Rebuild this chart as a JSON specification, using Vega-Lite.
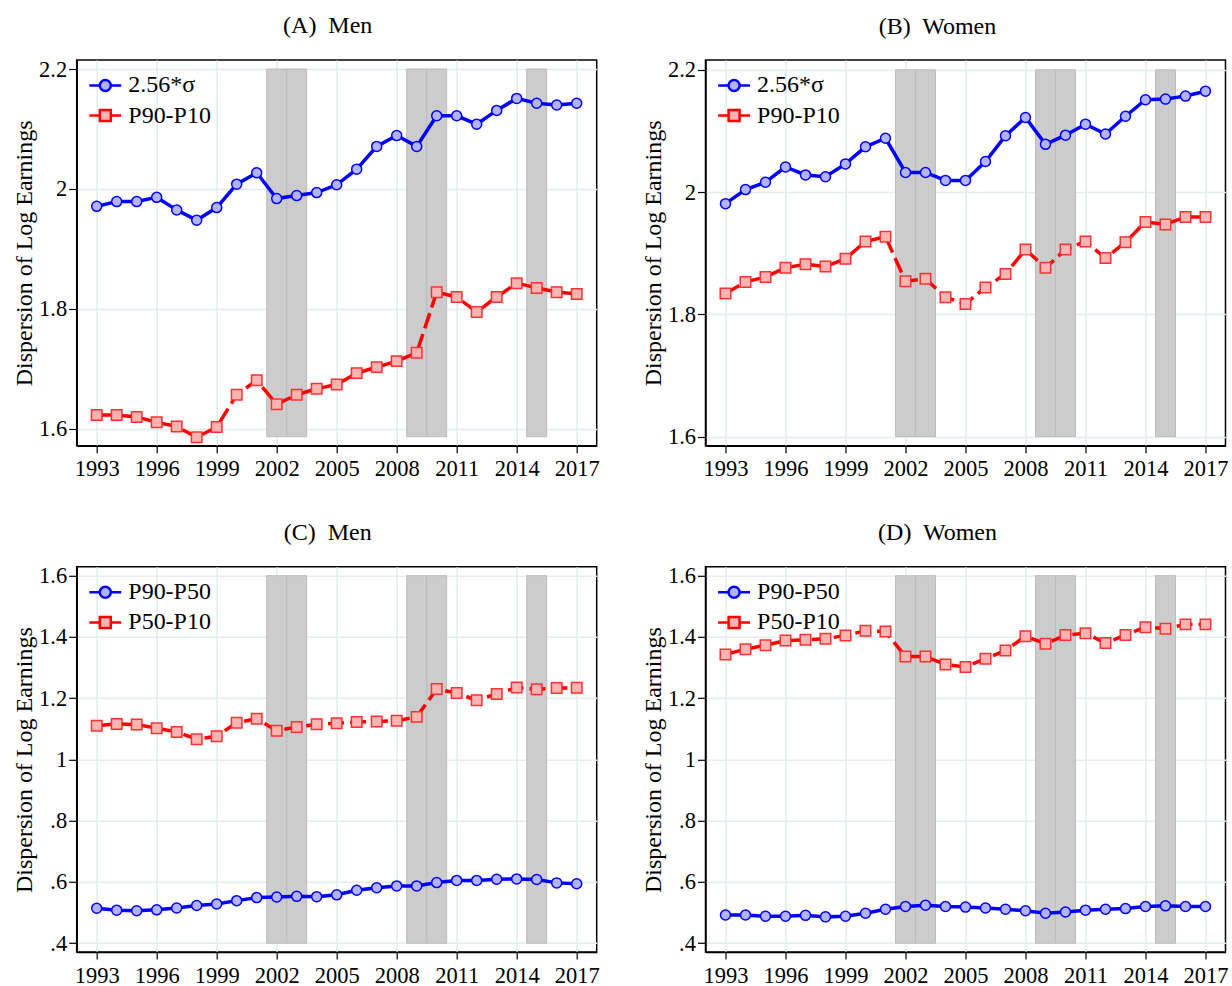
{
  "$schema": "https://vega.github.io/schema/vega-lite/v6.json",
  "background": "white",
  "padding": {"left": 11.7, "top": 13, "right": 0, "bottom": 0},
  "config": {
    "font": "Liberation Serif",
    "view": {"stroke": "black", "strokeWidth": 1.5},
    "axis": {
      "labelFont": "Liberation Serif", "labelFontSize": 22.5, "labelColor": "black",
      "titleFont": "Liberation Serif", "titleFontSize": 24, "titleFontWeight": "normal", "titleColor": "black",
      "domainColor": "black", "domainWidth": 1.5, "tickColor": "black", "tickWidth": 1.2,
      "gridColor": "#e3edef", "gridWidth": 1.5, "gridOpacity": 1
    },
    "axisX": {"tickSize": 7, "labelPadding": 5, "labelFlush": false},
    "axisY": {"tickSize": 8, "labelPadding": 2, "titleX": -52, "titleY": 192.85, "titleAngle": -90, "titleBaseline": "middle", "titleAlign": "center"},
    "title": {"font": "Liberation Serif", "fontSize": 24, "fontWeight": "normal", "color": "black", "frame": "group", "anchor": "middle", "baseline": "alphabetic", "offset": 20},
    "legend": {
      "orient": "none", "legendX": 16.6, "legendY": 13.4, "padding": 0, "title": null,
      "labelFont": "Liberation Serif", "labelFontSize": 24, "labelColor": "black",
      "symbolSize": 121, "symbolStrokeWidth": 2.5, "symbolOpacity": 1, "labelOffset": 11, "rowPadding": 6.2
    }
  },
  "datasets": {
    "bands": [
      {"p": "A", "x1": 2001.5, "x2": 2002.5, "lo": 1.587, "hi": 2.2},
      {"p": "A", "x1": 2002.5, "x2": 2003.5, "lo": 1.587, "hi": 2.2},
      {"p": "A", "x1": 2008.5, "x2": 2009.5, "lo": 1.587, "hi": 2.2},
      {"p": "A", "x1": 2009.5, "x2": 2010.5, "lo": 1.587, "hi": 2.2},
      {"p": "A", "x1": 2014.5, "x2": 2015.5, "lo": 1.587, "hi": 2.2},
      {"p": "B", "x1": 2001.5, "x2": 2002.5, "lo": 1.6, "hi": 2.2},
      {"p": "B", "x1": 2002.5, "x2": 2003.5, "lo": 1.6, "hi": 2.2},
      {"p": "B", "x1": 2008.5, "x2": 2009.5, "lo": 1.6, "hi": 2.2},
      {"p": "B", "x1": 2009.5, "x2": 2010.5, "lo": 1.6, "hi": 2.2},
      {"p": "B", "x1": 2014.5, "x2": 2015.5, "lo": 1.6, "hi": 2.2},
      {"p": "C", "x1": 2001.5, "x2": 2002.5, "lo": 0.4, "hi": 1.6},
      {"p": "C", "x1": 2002.5, "x2": 2003.5, "lo": 0.4, "hi": 1.6},
      {"p": "C", "x1": 2008.5, "x2": 2009.5, "lo": 0.4, "hi": 1.6},
      {"p": "C", "x1": 2009.5, "x2": 2010.5, "lo": 0.4, "hi": 1.6},
      {"p": "C", "x1": 2014.5, "x2": 2015.5, "lo": 0.4, "hi": 1.6},
      {"p": "D", "x1": 2001.5, "x2": 2002.5, "lo": 0.4, "hi": 1.6},
      {"p": "D", "x1": 2002.5, "x2": 2003.5, "lo": 0.4, "hi": 1.6},
      {"p": "D", "x1": 2008.5, "x2": 2009.5, "lo": 0.4, "hi": 1.6},
      {"p": "D", "x1": 2009.5, "x2": 2010.5, "lo": 0.4, "hi": 1.6},
      {"p": "D", "x1": 2014.5, "x2": 2015.5, "lo": 0.4, "hi": 1.6}
    ],
    "lines": [
      {"p":"A","s":"2.56*σ","yr":1993,"v":1.971},{"p":"A","s":"2.56*σ","yr":1994,"v":1.979},{"p":"A","s":"2.56*σ","yr":1995,"v":1.979},{"p":"A","s":"2.56*σ","yr":1996,"v":1.986},{"p":"A","s":"2.56*σ","yr":1997,"v":1.965},{"p":"A","s":"2.56*σ","yr":1998,"v":1.948},{"p":"A","s":"2.56*σ","yr":1999,"v":1.969},{"p":"A","s":"2.56*σ","yr":2000,"v":2.008},{"p":"A","s":"2.56*σ","yr":2001,"v":2.027},{"p":"A","s":"2.56*σ","yr":2002,"v":1.984},{"p":"A","s":"2.56*σ","yr":2003,"v":1.989},{"p":"A","s":"2.56*σ","yr":2004,"v":1.994},{"p":"A","s":"2.56*σ","yr":2005,"v":2.007},{"p":"A","s":"2.56*σ","yr":2006,"v":2.033},{"p":"A","s":"2.56*σ","yr":2007,"v":2.071},{"p":"A","s":"2.56*σ","yr":2008,"v":2.089},{"p":"A","s":"2.56*σ","yr":2009,"v":2.071},{"p":"A","s":"2.56*σ","yr":2010,"v":2.122},{"p":"A","s":"2.56*σ","yr":2011,"v":2.122},{"p":"A","s":"2.56*σ","yr":2012,"v":2.108},{"p":"A","s":"2.56*σ","yr":2013,"v":2.131},{"p":"A","s":"2.56*σ","yr":2014,"v":2.151},{"p":"A","s":"2.56*σ","yr":2015,"v":2.143},{"p":"A","s":"2.56*σ","yr":2016,"v":2.140},{"p":"A","s":"2.56*σ","yr":2017,"v":2.143},
      {"p":"A","s":"P90-P10","yr":1993,"v":1.623},{"p":"A","s":"P90-P10","yr":1994,"v":1.623},{"p":"A","s":"P90-P10","yr":1995,"v":1.620},{"p":"A","s":"P90-P10","yr":1996,"v":1.611},{"p":"A","s":"P90-P10","yr":1997,"v":1.604},{"p":"A","s":"P90-P10","yr":1998,"v":1.586},{"p":"A","s":"P90-P10","yr":1999,"v":1.603},{"p":"A","s":"P90-P10","yr":2000,"v":1.657},{"p":"A","s":"P90-P10","yr":2001,"v":1.681},{"p":"A","s":"P90-P10","yr":2002,"v":1.641},{"p":"A","s":"P90-P10","yr":2003,"v":1.657},{"p":"A","s":"P90-P10","yr":2004,"v":1.667},{"p":"A","s":"P90-P10","yr":2005,"v":1.674},{"p":"A","s":"P90-P10","yr":2006,"v":1.693},{"p":"A","s":"P90-P10","yr":2007,"v":1.703},{"p":"A","s":"P90-P10","yr":2008,"v":1.713},{"p":"A","s":"P90-P10","yr":2009,"v":1.727},{"p":"A","s":"P90-P10","yr":2010,"v":1.828},{"p":"A","s":"P90-P10","yr":2011,"v":1.820},{"p":"A","s":"P90-P10","yr":2012,"v":1.795},{"p":"A","s":"P90-P10","yr":2013,"v":1.820},{"p":"A","s":"P90-P10","yr":2014,"v":1.843},{"p":"A","s":"P90-P10","yr":2015,"v":1.835},{"p":"A","s":"P90-P10","yr":2016,"v":1.828},{"p":"A","s":"P90-P10","yr":2017,"v":1.825},
      {"p":"B","s":"2.56*σ","yr":1993,"v":1.981},{"p":"B","s":"2.56*σ","yr":1994,"v":2.004},{"p":"B","s":"2.56*σ","yr":1995,"v":2.016},{"p":"B","s":"2.56*σ","yr":1996,"v":2.041},{"p":"B","s":"2.56*σ","yr":1997,"v":2.028},{"p":"B","s":"2.56*σ","yr":1998,"v":2.025},{"p":"B","s":"2.56*σ","yr":1999,"v":2.046},{"p":"B","s":"2.56*σ","yr":2000,"v":2.074},{"p":"B","s":"2.56*σ","yr":2001,"v":2.088},{"p":"B","s":"2.56*σ","yr":2002,"v":2.032},{"p":"B","s":"2.56*σ","yr":2003,"v":2.032},{"p":"B","s":"2.56*σ","yr":2004,"v":2.019},{"p":"B","s":"2.56*σ","yr":2005,"v":2.019},{"p":"B","s":"2.56*σ","yr":2006,"v":2.050},{"p":"B","s":"2.56*σ","yr":2007,"v":2.092},{"p":"B","s":"2.56*σ","yr":2008,"v":2.122},{"p":"B","s":"2.56*σ","yr":2009,"v":2.078},{"p":"B","s":"2.56*σ","yr":2010,"v":2.093},{"p":"B","s":"2.56*σ","yr":2011,"v":2.111},{"p":"B","s":"2.56*σ","yr":2012,"v":2.095},{"p":"B","s":"2.56*σ","yr":2013,"v":2.124},{"p":"B","s":"2.56*σ","yr":2014,"v":2.151},{"p":"B","s":"2.56*σ","yr":2015,"v":2.152},{"p":"B","s":"2.56*σ","yr":2016,"v":2.157},{"p":"B","s":"2.56*σ","yr":2017,"v":2.165},
      {"p":"B","s":"P90-P10","yr":1993,"v":1.834},{"p":"B","s":"P90-P10","yr":1994,"v":1.853},{"p":"B","s":"P90-P10","yr":1995,"v":1.861},{"p":"B","s":"P90-P10","yr":1996,"v":1.876},{"p":"B","s":"P90-P10","yr":1997,"v":1.882},{"p":"B","s":"P90-P10","yr":1998,"v":1.878},{"p":"B","s":"P90-P10","yr":1999,"v":1.891},{"p":"B","s":"P90-P10","yr":2000,"v":1.919},{"p":"B","s":"P90-P10","yr":2001,"v":1.927},{"p":"B","s":"P90-P10","yr":2002,"v":1.854},{"p":"B","s":"P90-P10","yr":2003,"v":1.858},{"p":"B","s":"P90-P10","yr":2004,"v":1.828},{"p":"B","s":"P90-P10","yr":2005,"v":1.817},{"p":"B","s":"P90-P10","yr":2006,"v":1.844},{"p":"B","s":"P90-P10","yr":2007,"v":1.866},{"p":"B","s":"P90-P10","yr":2008,"v":1.906},{"p":"B","s":"P90-P10","yr":2009,"v":1.876},{"p":"B","s":"P90-P10","yr":2010,"v":1.906},{"p":"B","s":"P90-P10","yr":2011,"v":1.919},{"p":"B","s":"P90-P10","yr":2012,"v":1.892},{"p":"B","s":"P90-P10","yr":2013,"v":1.918},{"p":"B","s":"P90-P10","yr":2014,"v":1.951},{"p":"B","s":"P90-P10","yr":2015,"v":1.947},{"p":"B","s":"P90-P10","yr":2016,"v":1.959},{"p":"B","s":"P90-P10","yr":2017,"v":1.959},
      {"p":"C","s":"P90-P50","yr":1993,"v":0.514},{"p":"C","s":"P90-P50","yr":1994,"v":0.508},{"p":"C","s":"P90-P50","yr":1995,"v":0.506},{"p":"C","s":"P90-P50","yr":1996,"v":0.509},{"p":"C","s":"P90-P50","yr":1997,"v":0.515},{"p":"C","s":"P90-P50","yr":1998,"v":0.523},{"p":"C","s":"P90-P50","yr":1999,"v":0.528},{"p":"C","s":"P90-P50","yr":2000,"v":0.539},{"p":"C","s":"P90-P50","yr":2001,"v":0.549},{"p":"C","s":"P90-P50","yr":2002,"v":0.551},{"p":"C","s":"P90-P50","yr":2003,"v":0.553},{"p":"C","s":"P90-P50","yr":2004,"v":0.552},{"p":"C","s":"P90-P50","yr":2005,"v":0.558},{"p":"C","s":"P90-P50","yr":2006,"v":0.573},{"p":"C","s":"P90-P50","yr":2007,"v":0.581},{"p":"C","s":"P90-P50","yr":2008,"v":0.587},{"p":"C","s":"P90-P50","yr":2009,"v":0.587},{"p":"C","s":"P90-P50","yr":2010,"v":0.598},{"p":"C","s":"P90-P50","yr":2011,"v":0.605},{"p":"C","s":"P90-P50","yr":2012,"v":0.605},{"p":"C","s":"P90-P50","yr":2013,"v":0.609},{"p":"C","s":"P90-P50","yr":2014,"v":0.610},{"p":"C","s":"P90-P50","yr":2015,"v":0.608},{"p":"C","s":"P90-P50","yr":2016,"v":0.597},{"p":"C","s":"P90-P50","yr":2017,"v":0.594},
      {"p":"C","s":"P50-P10","yr":1993,"v":1.110},{"p":"C","s":"P50-P10","yr":1994,"v":1.116},{"p":"C","s":"P50-P10","yr":1995,"v":1.114},{"p":"C","s":"P50-P10","yr":1996,"v":1.102},{"p":"C","s":"P50-P10","yr":1997,"v":1.090},{"p":"C","s":"P50-P10","yr":1998,"v":1.066},{"p":"C","s":"P50-P10","yr":1999,"v":1.076},{"p":"C","s":"P50-P10","yr":2000,"v":1.120},{"p":"C","s":"P50-P10","yr":2001,"v":1.133},{"p":"C","s":"P50-P10","yr":2002,"v":1.094},{"p":"C","s":"P50-P10","yr":2003,"v":1.106},{"p":"C","s":"P50-P10","yr":2004,"v":1.115},{"p":"C","s":"P50-P10","yr":2005,"v":1.118},{"p":"C","s":"P50-P10","yr":2006,"v":1.122},{"p":"C","s":"P50-P10","yr":2007,"v":1.124},{"p":"C","s":"P50-P10","yr":2008,"v":1.126},{"p":"C","s":"P50-P10","yr":2009,"v":1.139},{"p":"C","s":"P50-P10","yr":2010,"v":1.230},{"p":"C","s":"P50-P10","yr":2011,"v":1.217},{"p":"C","s":"P50-P10","yr":2012,"v":1.193},{"p":"C","s":"P50-P10","yr":2013,"v":1.214},{"p":"C","s":"P50-P10","yr":2014,"v":1.235},{"p":"C","s":"P50-P10","yr":2015,"v":1.229},{"p":"C","s":"P50-P10","yr":2016,"v":1.233},{"p":"C","s":"P50-P10","yr":2017,"v":1.234},
      {"p":"D","s":"P90-P50","yr":1993,"v":0.492},{"p":"D","s":"P90-P50","yr":1994,"v":0.492},{"p":"D","s":"P90-P50","yr":1995,"v":0.488},{"p":"D","s":"P90-P50","yr":1996,"v":0.488},{"p":"D","s":"P90-P50","yr":1997,"v":0.491},{"p":"D","s":"P90-P50","yr":1998,"v":0.486},{"p":"D","s":"P90-P50","yr":1999,"v":0.488},{"p":"D","s":"P90-P50","yr":2000,"v":0.498},{"p":"D","s":"P90-P50","yr":2001,"v":0.511},{"p":"D","s":"P90-P50","yr":2002,"v":0.520},{"p":"D","s":"P90-P50","yr":2003,"v":0.524},{"p":"D","s":"P90-P50","yr":2004,"v":0.520},{"p":"D","s":"P90-P50","yr":2005,"v":0.518},{"p":"D","s":"P90-P50","yr":2006,"v":0.515},{"p":"D","s":"P90-P50","yr":2007,"v":0.511},{"p":"D","s":"P90-P50","yr":2008,"v":0.506},{"p":"D","s":"P90-P50","yr":2009,"v":0.498},{"p":"D","s":"P90-P50","yr":2010,"v":0.502},{"p":"D","s":"P90-P50","yr":2011,"v":0.508},{"p":"D","s":"P90-P50","yr":2012,"v":0.511},{"p":"D","s":"P90-P50","yr":2013,"v":0.513},{"p":"D","s":"P90-P50","yr":2014,"v":0.520},{"p":"D","s":"P90-P50","yr":2015,"v":0.522},{"p":"D","s":"P90-P50","yr":2016,"v":0.520},{"p":"D","s":"P90-P50","yr":2017,"v":0.520},
      {"p":"D","s":"P50-P10","yr":1993,"v":1.343},{"p":"D","s":"P50-P10","yr":1994,"v":1.360},{"p":"D","s":"P50-P10","yr":1995,"v":1.373},{"p":"D","s":"P50-P10","yr":1996,"v":1.388},{"p":"D","s":"P50-P10","yr":1997,"v":1.391},{"p":"D","s":"P50-P10","yr":1998,"v":1.394},{"p":"D","s":"P50-P10","yr":1999,"v":1.405},{"p":"D","s":"P50-P10","yr":2000,"v":1.420},{"p":"D","s":"P50-P10","yr":2001,"v":1.418},{"p":"D","s":"P50-P10","yr":2002,"v":1.336},{"p":"D","s":"P50-P10","yr":2003,"v":1.336},{"p":"D","s":"P50-P10","yr":2004,"v":1.310},{"p":"D","s":"P50-P10","yr":2005,"v":1.302},{"p":"D","s":"P50-P10","yr":2006,"v":1.329},{"p":"D","s":"P50-P10","yr":2007,"v":1.356},{"p":"D","s":"P50-P10","yr":2008,"v":1.402},{"p":"D","s":"P50-P10","yr":2009,"v":1.378},{"p":"D","s":"P50-P10","yr":2010,"v":1.406},{"p":"D","s":"P50-P10","yr":2011,"v":1.412},{"p":"D","s":"P50-P10","yr":2012,"v":1.380},{"p":"D","s":"P50-P10","yr":2013,"v":1.406},{"p":"D","s":"P50-P10","yr":2014,"v":1.432},{"p":"D","s":"P50-P10","yr":2015,"v":1.427},{"p":"D","s":"P50-P10","yr":2016,"v":1.441},{"p":"D","s":"P50-P10","yr":2017,"v":1.441}
    ]
  },
  "columns": 2,
  "spacing": {"row": 120.8, "column": 108.8},
  "bounds": "flush",
  "resolve": {"scale": {"x": "independent", "y": "independent", "stroke": "independent", "fill": "independent", "shape": "independent"}},
  "concat": [
    {
      "width": 520, "height": 385.7,
      "title": {"text": "(A)\u00a0 Men", "dx": -9},
      "layer": [
        {"data": {"name": "bands"}, "transform": [{"filter": "datum.p == 'A'"}],
         "mark": {"type": "rect", "fill": "#cccccc", "stroke": "#bdbdbd", "strokeWidth": 1},
         "encoding": {
           "x": {"field": "x1", "type": "quantitative", "title": null, "scale": {"domain": [1992, 2018], "nice": false}, "axis": {"values": [1993,1996,1999,2002,2005,2008,2011,2014,2017], "format": "d"}},
           "x2": {"field": "x2"},
           "y": {"field": "lo", "type": "quantitative", "title": "Dispersion of Log Earnings", "scale": {"domain": [1.572, 2.215], "nice": false}, "axis": {"values": [1.6,1.8,2,2.2], "labelExpr": "format(datum.value, '~g')"}},
           "y2": {"field": "hi"}
         }},
        {"data": {"name": "lines"}, "transform": [{"filter": "datum.p == 'A' && datum.s == '2.56*σ'"}],
         "mark": {"type": "line", "stroke": "#0000ff", "strokeWidth": 3.5},
         "encoding": {"x": {"field": "yr", "type": "quantitative", "title": null}, "y": {"field": "v", "type": "quantitative", "title": "Dispersion of Log Earnings"}}},
        {"data": {"name": "lines"}, "transform": [{"filter": "datum.p == 'A' && datum.s == 'P90-P10'"}],
         "mark": {"type": "line", "stroke": "#ff0000", "strokeWidth": 3.5, "strokeDash": [16, 6]},
         "encoding": {"x": {"field": "yr", "type": "quantitative", "title": null}, "y": {"field": "v", "type": "quantitative", "title": "Dispersion of Log Earnings"}}},
        {"data": {"name": "lines"}, "transform": [{"filter": "datum.p == 'A' && datum.s == '2.56*σ'"}],
         "mark": {"type": "point", "shape": "circle", "filled": true, "fill": "#b3b3ff", "stroke": "#0000ff", "strokeWidth": 1.5, "opacity": 1, "size": 100},
         "encoding": {"x": {"field": "yr", "type": "quantitative", "title": null}, "y": {"field": "v", "type": "quantitative", "title": "Dispersion of Log Earnings"}}},
        {"data": {"name": "lines"}, "transform": [{"filter": "datum.p == 'A' && datum.s == 'P90-P10'"}],
         "mark": {"type": "point", "shape": "square", "filled": true, "fill": "#ffb3b3", "stroke": "#ff3030", "strokeWidth": 1.5, "opacity": 1, "size": 110},
         "encoding": {"x": {"field": "yr", "type": "quantitative", "title": null}, "y": {"field": "v", "type": "quantitative", "title": "Dispersion of Log Earnings"}}},
        {"data": {"name": "lines"}, "transform": [{"filter": "false"}],
         "mark": {"type": "point", "filled": true, "opacity": 1},
         "encoding": {
           "x": {"field": "yr", "type": "quantitative", "title": null},
           "y": {"field": "v", "type": "quantitative", "title": "Dispersion of Log Earnings"},
           "shape": {"field": "s", "type": "nominal", "scale": {"domain": ["2.56*σ", "P90-P10"], "range": ["M-2.9,0L-1,0M1,0L2.9,0M1,0C1,0.552,0.552,1,0,1C-0.552,1,-1,0.552,-1,0C-1,-0.552,-0.552,-1,0,-1C0.552,-1,1,-0.552,1,0Z", "M-2.9,0L-1,0M1,0L2.9,0M-1,-1L1,-1L1,1L-1,1Z"]}},
           "fill": {"field": "s", "type": "nominal", "scale": {"domain": ["2.56*σ", "P90-P10"], "range": ["#b3b3ff", "#ffb3b3"]}},
           "stroke": {"field": "s", "type": "nominal", "scale": {"domain": ["2.56*σ", "P90-P10"], "range": ["#0000ff", "#ff0000"]}}
         }}
      ]
    },
    {
      "width": 520, "height": 385.7,
      "title": {"text": "(B)\u00a0 Women", "dx": -28},
      "layer": [
        {"data": {"name": "bands"}, "transform": [{"filter": "datum.p == 'B'"}],
         "mark": {"type": "rect", "fill": "#cccccc", "stroke": "#bdbdbd", "strokeWidth": 1},
         "encoding": {
           "x": {"field": "x1", "type": "quantitative", "title": null, "scale": {"domain": [1992, 2018], "nice": false}, "axis": {"values": [1993,1996,1999,2002,2005,2008,2011,2014,2017], "format": "d"}},
           "x2": {"field": "x2"},
           "y": {"field": "lo", "type": "quantitative", "title": "Dispersion of Log Earnings", "scale": {"domain": [1.585, 2.216], "nice": false}, "axis": {"values": [1.6,1.8,2,2.2], "labelExpr": "format(datum.value, '~g')"}},
           "y2": {"field": "hi"}
         }},
        {"data": {"name": "lines"}, "transform": [{"filter": "datum.p == 'B' && datum.s == '2.56*σ'"}],
         "mark": {"type": "line", "stroke": "#0000ff", "strokeWidth": 3.5},
         "encoding": {"x": {"field": "yr", "type": "quantitative", "title": null}, "y": {"field": "v", "type": "quantitative", "title": "Dispersion of Log Earnings"}}},
        {"data": {"name": "lines"}, "transform": [{"filter": "datum.p == 'B' && datum.s == 'P90-P10'"}],
         "mark": {"type": "line", "stroke": "#ff0000", "strokeWidth": 3.5, "strokeDash": [16, 6]},
         "encoding": {"x": {"field": "yr", "type": "quantitative", "title": null}, "y": {"field": "v", "type": "quantitative", "title": "Dispersion of Log Earnings"}}},
        {"data": {"name": "lines"}, "transform": [{"filter": "datum.p == 'B' && datum.s == '2.56*σ'"}],
         "mark": {"type": "point", "shape": "circle", "filled": true, "fill": "#b3b3ff", "stroke": "#0000ff", "strokeWidth": 1.5, "opacity": 1, "size": 100},
         "encoding": {"x": {"field": "yr", "type": "quantitative", "title": null}, "y": {"field": "v", "type": "quantitative", "title": "Dispersion of Log Earnings"}}},
        {"data": {"name": "lines"}, "transform": [{"filter": "datum.p == 'B' && datum.s == 'P90-P10'"}],
         "mark": {"type": "point", "shape": "square", "filled": true, "fill": "#ffb3b3", "stroke": "#ff3030", "strokeWidth": 1.5, "opacity": 1, "size": 110},
         "encoding": {"x": {"field": "yr", "type": "quantitative", "title": null}, "y": {"field": "v", "type": "quantitative", "title": "Dispersion of Log Earnings"}}},
        {"data": {"name": "lines"}, "transform": [{"filter": "false"}],
         "mark": {"type": "point", "filled": true, "opacity": 1},
         "encoding": {
           "x": {"field": "yr", "type": "quantitative", "title": null},
           "y": {"field": "v", "type": "quantitative", "title": "Dispersion of Log Earnings"},
           "shape": {"field": "s", "type": "nominal", "scale": {"domain": ["2.56*σ", "P90-P10"], "range": ["M-2.9,0L-1,0M1,0L2.9,0M1,0C1,0.552,0.552,1,0,1C-0.552,1,-1,0.552,-1,0C-1,-0.552,-0.552,-1,0,-1C0.552,-1,1,-0.552,1,0Z", "M-2.9,0L-1,0M1,0L2.9,0M-1,-1L1,-1L1,1L-1,1Z"]}},
           "fill": {"field": "s", "type": "nominal", "scale": {"domain": ["2.56*σ", "P90-P10"], "range": ["#b3b3ff", "#ffb3b3"]}},
           "stroke": {"field": "s", "type": "nominal", "scale": {"domain": ["2.56*σ", "P90-P10"], "range": ["#0000ff", "#ff0000"]}}
         }}
      ]
    },
    {
      "width": 520, "height": 385.3,
      "title": {"text": "(C)\u00a0 Men", "dx": -9},
      "layer": [
        {"data": {"name": "bands"}, "transform": [{"filter": "datum.p == 'C'"}],
         "mark": {"type": "rect", "fill": "#cccccc", "stroke": "#bdbdbd", "strokeWidth": 1},
         "encoding": {
           "x": {"field": "x1", "type": "quantitative", "title": null, "scale": {"domain": [1992, 2018], "nice": false}, "axis": {"values": [1993,1996,1999,2002,2005,2008,2011,2014,2017], "format": "d"}},
           "x2": {"field": "x2"},
           "y": {"field": "lo", "type": "quantitative", "title": "Dispersion of Log Earnings", "scale": {"domain": [0.371, 1.629], "nice": false}, "axis": {"values": [0.4,0.6,0.8,1,1.2,1.4,1.6], "labelExpr": "datum.value < 1 ? replace(format(datum.value, '.1f'), '0.', '.') : format(datum.value, '~g')"}},
           "y2": {"field": "hi"}
         }},
        {"data": {"name": "lines"}, "transform": [{"filter": "datum.p == 'C' && datum.s == 'P90-P50'"}],
         "mark": {"type": "line", "stroke": "#0000ff", "strokeWidth": 3.5},
         "encoding": {"x": {"field": "yr", "type": "quantitative", "title": null}, "y": {"field": "v", "type": "quantitative", "title": "Dispersion of Log Earnings"}}},
        {"data": {"name": "lines"}, "transform": [{"filter": "datum.p == 'C' && datum.s == 'P50-P10'"}],
         "mark": {"type": "line", "stroke": "#ff0000", "strokeWidth": 3.5, "strokeDash": [16, 6]},
         "encoding": {"x": {"field": "yr", "type": "quantitative", "title": null}, "y": {"field": "v", "type": "quantitative", "title": "Dispersion of Log Earnings"}}},
        {"data": {"name": "lines"}, "transform": [{"filter": "datum.p == 'C' && datum.s == 'P90-P50'"}],
         "mark": {"type": "point", "shape": "circle", "filled": true, "fill": "#b3b3ff", "stroke": "#0000ff", "strokeWidth": 1.5, "opacity": 1, "size": 100},
         "encoding": {"x": {"field": "yr", "type": "quantitative", "title": null}, "y": {"field": "v", "type": "quantitative", "title": "Dispersion of Log Earnings"}}},
        {"data": {"name": "lines"}, "transform": [{"filter": "datum.p == 'C' && datum.s == 'P50-P10'"}],
         "mark": {"type": "point", "shape": "square", "filled": true, "fill": "#ffb3b3", "stroke": "#ff3030", "strokeWidth": 1.5, "opacity": 1, "size": 110},
         "encoding": {"x": {"field": "yr", "type": "quantitative", "title": null}, "y": {"field": "v", "type": "quantitative", "title": "Dispersion of Log Earnings"}}},
        {"data": {"name": "lines"}, "transform": [{"filter": "false"}],
         "mark": {"type": "point", "filled": true, "opacity": 1},
         "encoding": {
           "x": {"field": "yr", "type": "quantitative", "title": null},
           "y": {"field": "v", "type": "quantitative", "title": "Dispersion of Log Earnings"},
           "shape": {"field": "s", "type": "nominal", "scale": {"domain": ["P90-P50", "P50-P10"], "range": ["M-2.9,0L-1,0M1,0L2.9,0M1,0C1,0.552,0.552,1,0,1C-0.552,1,-1,0.552,-1,0C-1,-0.552,-0.552,-1,0,-1C0.552,-1,1,-0.552,1,0Z", "M-2.9,0L-1,0M1,0L2.9,0M-1,-1L1,-1L1,1L-1,1Z"]}},
           "fill": {"field": "s", "type": "nominal", "scale": {"domain": ["P90-P50", "P50-P10"], "range": ["#b3b3ff", "#ffb3b3"]}},
           "stroke": {"field": "s", "type": "nominal", "scale": {"domain": ["P90-P50", "P50-P10"], "range": ["#0000ff", "#ff0000"]}}
         }}
      ]
    },
    {
      "width": 520, "height": 385.3,
      "title": {"text": "(D)\u00a0 Women", "dx": -28},
      "layer": [
        {"data": {"name": "bands"}, "transform": [{"filter": "datum.p == 'D'"}],
         "mark": {"type": "rect", "fill": "#cccccc", "stroke": "#bdbdbd", "strokeWidth": 1},
         "encoding": {
           "x": {"field": "x1", "type": "quantitative", "title": null, "scale": {"domain": [1992, 2018], "nice": false}, "axis": {"values": [1993,1996,1999,2002,2005,2008,2011,2014,2017], "format": "d"}},
           "x2": {"field": "x2"},
           "y": {"field": "lo", "type": "quantitative", "title": "Dispersion of Log Earnings", "scale": {"domain": [0.371, 1.629], "nice": false}, "axis": {"values": [0.4,0.6,0.8,1,1.2,1.4,1.6], "labelExpr": "datum.value < 1 ? replace(format(datum.value, '.1f'), '0.', '.') : format(datum.value, '~g')"}},
           "y2": {"field": "hi"}
         }},
        {"data": {"name": "lines"}, "transform": [{"filter": "datum.p == 'D' && datum.s == 'P90-P50'"}],
         "mark": {"type": "line", "stroke": "#0000ff", "strokeWidth": 3.5},
         "encoding": {"x": {"field": "yr", "type": "quantitative", "title": null}, "y": {"field": "v", "type": "quantitative", "title": "Dispersion of Log Earnings"}}},
        {"data": {"name": "lines"}, "transform": [{"filter": "datum.p == 'D' && datum.s == 'P50-P10'"}],
         "mark": {"type": "line", "stroke": "#ff0000", "strokeWidth": 3.5, "strokeDash": [16, 6]},
         "encoding": {"x": {"field": "yr", "type": "quantitative", "title": null}, "y": {"field": "v", "type": "quantitative", "title": "Dispersion of Log Earnings"}}},
        {"data": {"name": "lines"}, "transform": [{"filter": "datum.p == 'D' && datum.s == 'P90-P50'"}],
         "mark": {"type": "point", "shape": "circle", "filled": true, "fill": "#b3b3ff", "stroke": "#0000ff", "strokeWidth": 1.5, "opacity": 1, "size": 100},
         "encoding": {"x": {"field": "yr", "type": "quantitative", "title": null}, "y": {"field": "v", "type": "quantitative", "title": "Dispersion of Log Earnings"}}},
        {"data": {"name": "lines"}, "transform": [{"filter": "datum.p == 'D' && datum.s == 'P50-P10'"}],
         "mark": {"type": "point", "shape": "square", "filled": true, "fill": "#ffb3b3", "stroke": "#ff3030", "strokeWidth": 1.5, "opacity": 1, "size": 110},
         "encoding": {"x": {"field": "yr", "type": "quantitative", "title": null}, "y": {"field": "v", "type": "quantitative", "title": "Dispersion of Log Earnings"}}},
        {"data": {"name": "lines"}, "transform": [{"filter": "false"}],
         "mark": {"type": "point", "filled": true, "opacity": 1},
         "encoding": {
           "x": {"field": "yr", "type": "quantitative", "title": null},
           "y": {"field": "v", "type": "quantitative", "title": "Dispersion of Log Earnings"},
           "shape": {"field": "s", "type": "nominal", "scale": {"domain": ["P90-P50", "P50-P10"], "range": ["M-2.9,0L-1,0M1,0L2.9,0M1,0C1,0.552,0.552,1,0,1C-0.552,1,-1,0.552,-1,0C-1,-0.552,-0.552,-1,0,-1C0.552,-1,1,-0.552,1,0Z", "M-2.9,0L-1,0M1,0L2.9,0M-1,-1L1,-1L1,1L-1,1Z"]}},
           "fill": {"field": "s", "type": "nominal", "scale": {"domain": ["P90-P50", "P50-P10"], "range": ["#b3b3ff", "#ffb3b3"]}},
           "stroke": {"field": "s", "type": "nominal", "scale": {"domain": ["P90-P50", "P50-P10"], "range": ["#0000ff", "#ff0000"]}}
         }}
      ]
    }
  ]
}
